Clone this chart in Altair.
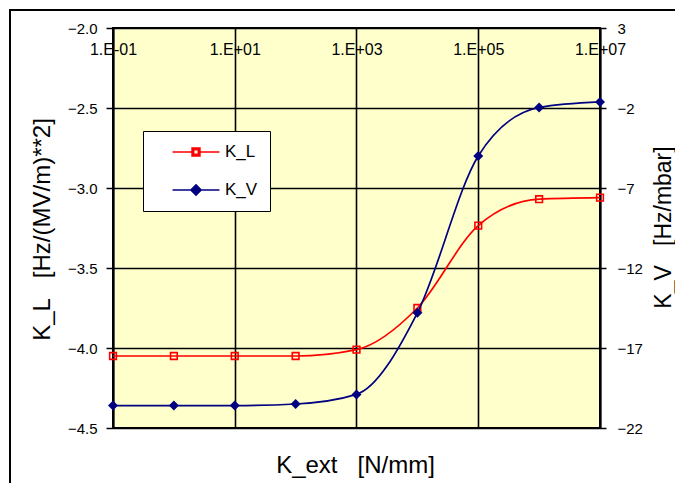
import json
import altair as alt
import pandas as pd

FONT = "Liberation Sans"
NB = "\u00a0"

# ---- data ----
k_ext = [1e-1, 1e0, 1e1, 1e2, 1e3, 1e4, 1e5, 1e6, 1e7]
k_l = [-4.05, -4.05, -4.05, -4.05, -4.01, -3.75, -3.235, -3.07, -3.06]
k_v = [-20.6, -20.6, -20.6, -20.5, -19.9, -14.8, -5.0, -1.97, -1.62]
series = ["K_L", "K_V"]
series_colors = ["#FF0000", "#000080"]
marker_fills = ["white", "#000080"]
x_tick_values = [1e-1, 1e1, 1e3, 1e5, 1e7]
x_tick_labels = ["1.E-01", "1.E+01", "1.E+03", "1.E+05", "1.E+07"]
kl_ticks = [-4.5, -4.0, -3.5, -3.0, -2.5, -2.0]
kv_ticks = [-22, -17, -12, -7, -2, 3]

df_l = pd.DataFrame({"k_ext": k_ext, "value": k_l, "series": series[0]})
df_v = pd.DataFrame({"k_ext": k_ext, "value": k_v, "series": series[1]})
df_legend = pd.DataFrame({"series": series, "k_ext": [1.0, 1.0], "value": [-3.0, -3.0]})
frame_df = pd.DataFrame({"a": [0]})

label_expr = "{}[indexof({}, datum.value)]".format(
    json.dumps(x_tick_labels), json.dumps(x_tick_values)
)

x_enc = alt.X(
    "k_ext:Q",
    scale=alt.Scale(type="log", domain=[1e-1, 1e7], nice=False),
    axis=alt.Axis(
        orient="top", values=x_tick_values, labelExpr=label_expr,
        ticks=False, tickSize=0, labelPadding=-21.5, labelBaseline="middle",
        domain=False, grid=True, gridColor="black", gridWidth=1.6, gridOpacity=1,
        labelFlush=False, labelOverlap=False, labelBound=False,
        labelFont=FONT, labelFontSize=16, labelColor="black",
        title=f"K_ext{NB}{NB}{NB}[N/mm]", titleX=242, titleY=437, titleAlign="center",
        titleBaseline="middle", titleFont=FONT, titleFontSize=24,
        titleFontWeight="normal", titleColor="black",
    ),
)

# legend symbols: a short line with the marker in the middle
# (K_L square drawn as a ring so that it stays open)
path_l = "M-3,0H-0.5M0.5,0H3M-0.5,-0.5H0.5V0.5H-0.5ZM-0.3,-0.3V0.3H0.3V-0.3Z"
path_v = "M-3,0H3M0,-0.65L0.65,0L0,0.65L-0.65,0Z"

legend = alt.Legend(
    orient="none", legendX=30, legendY=103, title=None,
    fillColor="white", strokeColor="black", padding=12,
    labelFont=FONT, labelFontSize=17, labelColor="black", labelOffset=20,
    labelExpr=f"datum.label + '{NB}{NB}{NB}'",
    symbolSize=245, symbolStrokeWidth=1.6, symbolOpacity=1,
    symbolOffset=32, rowPadding=21,
)

color_enc = alt.Color(
    "series:N", scale=alt.Scale(domain=series, range=series_colors), legend=legend
)

yl = alt.Y(
    "value:Q",
    scale=alt.Scale(domain=[-4.5, -2.0], nice=False, zero=False),
    axis=alt.Axis(
        orient="left", values=kl_ticks, format=".1f",
        tickSize=7, tickColor="black", tickWidth=1.5, labelPadding=9,
        domain=True, domainColor="black", domainWidth=2,
        grid=True, gridColor="black", gridWidth=1.6, gridOpacity=1,
        labelFont=FONT, labelFontSize=15, labelColor="black",
        labelFlush=False, labelOverlap=False,
        title=f"K_L{NB}{NB}{NB}[Hz/(MV/m)**2]", titleX=-71, titleY=201, titleAngle=270,
        titleAlign="center", titleBaseline="middle", titleFont=FONT,
        titleFontSize=24, titleFontWeight="normal", titleColor="black",
    ),
)

yv = alt.Y(
    "value:Q",
    scale=alt.Scale(domain=[-22, 3], nice=False, zero=False),
    axis=alt.Axis(
        orient="right", values=kv_ticks, format="d",
        tickSize=6, tickColor="black", tickWidth=1.5, labelPadding=11,
        domain=True, domainColor="black", domainWidth=2, grid=False,
        labelFont=FONT, labelFontSize=15, labelColor="black",
        labelFlush=False, labelOverlap=False,
        title=f"K_V{NB}{NB}{NB}[Hz/mbar]", titleX=63, titleY=199, titleAngle=270,
        titleAlign="center", titleBaseline="middle", titleFont=FONT,
        titleFontSize=23, titleFontWeight="normal", titleColor="black",
    ),
)

frame = alt.Chart(frame_df).mark_rect(
    fill="transparent", stroke="black", strokeWidth=2
).encode(
    x=alt.value(-103), x2=alt.value(700), y=alt.value(-18), y2=alt.value(600)
)

line_l = alt.Chart(df_l).mark_line(interpolate="monotone", strokeWidth=1.7).encode(
    x=x_enc, y=yl, color=color_enc
)
pt_l = alt.Chart(df_l).mark_point(
    shape="square", filled=False, size=45, strokeWidth=1.6, opacity=1
).encode(x=x_enc, y=yl, color=color_enc)

line_v = alt.Chart(df_v).mark_line(interpolate="monotone", strokeWidth=1.7).encode(
    x=x_enc, y=yv, color=color_enc
)
pt_v = alt.Chart(df_v).mark_point(
    shape="diamond", filled=True, size=100, opacity=1
).encode(x=x_enc, y=yv, color=color_enc)

# legend-only layer: its rows are filtered out, it only feeds the legend symbols
legend_layer = alt.Chart(df_legend).transform_filter("false").mark_point(
    filled=True, strokeWidth=1.6
).encode(
    x=x_enc, y=yl,
    shape=alt.Shape(
        "series:N", scale=alt.Scale(domain=series, range=[path_l, path_v]),
        legend=legend,
    ),
    fill=alt.Fill(
        "series:N", scale=alt.Scale(domain=series, range=marker_fills),
        legend=legend,
    ),
    stroke=alt.Stroke(
        "series:N", scale=alt.Scale(domain=series, range=series_colors),
        legend=legend,
    ),
)

left = alt.layer(line_l, pt_l, legend_layer)
right = alt.layer(line_v, pt_v)

chart = (
    alt.layer(frame, left, right)
    .resolve_scale(y="independent")
    .properties(
        width=487, height=400, autosize="none",
        padding={"left": 105, "top": 20, "right": 75, "bottom": 55},
        background="white",
    )
    .configure_view(fill="#FFFFCC", stroke="black", strokeWidth=2)
)

chart.save("out.html", embed_options={"renderer": "svg", "actions": False})
